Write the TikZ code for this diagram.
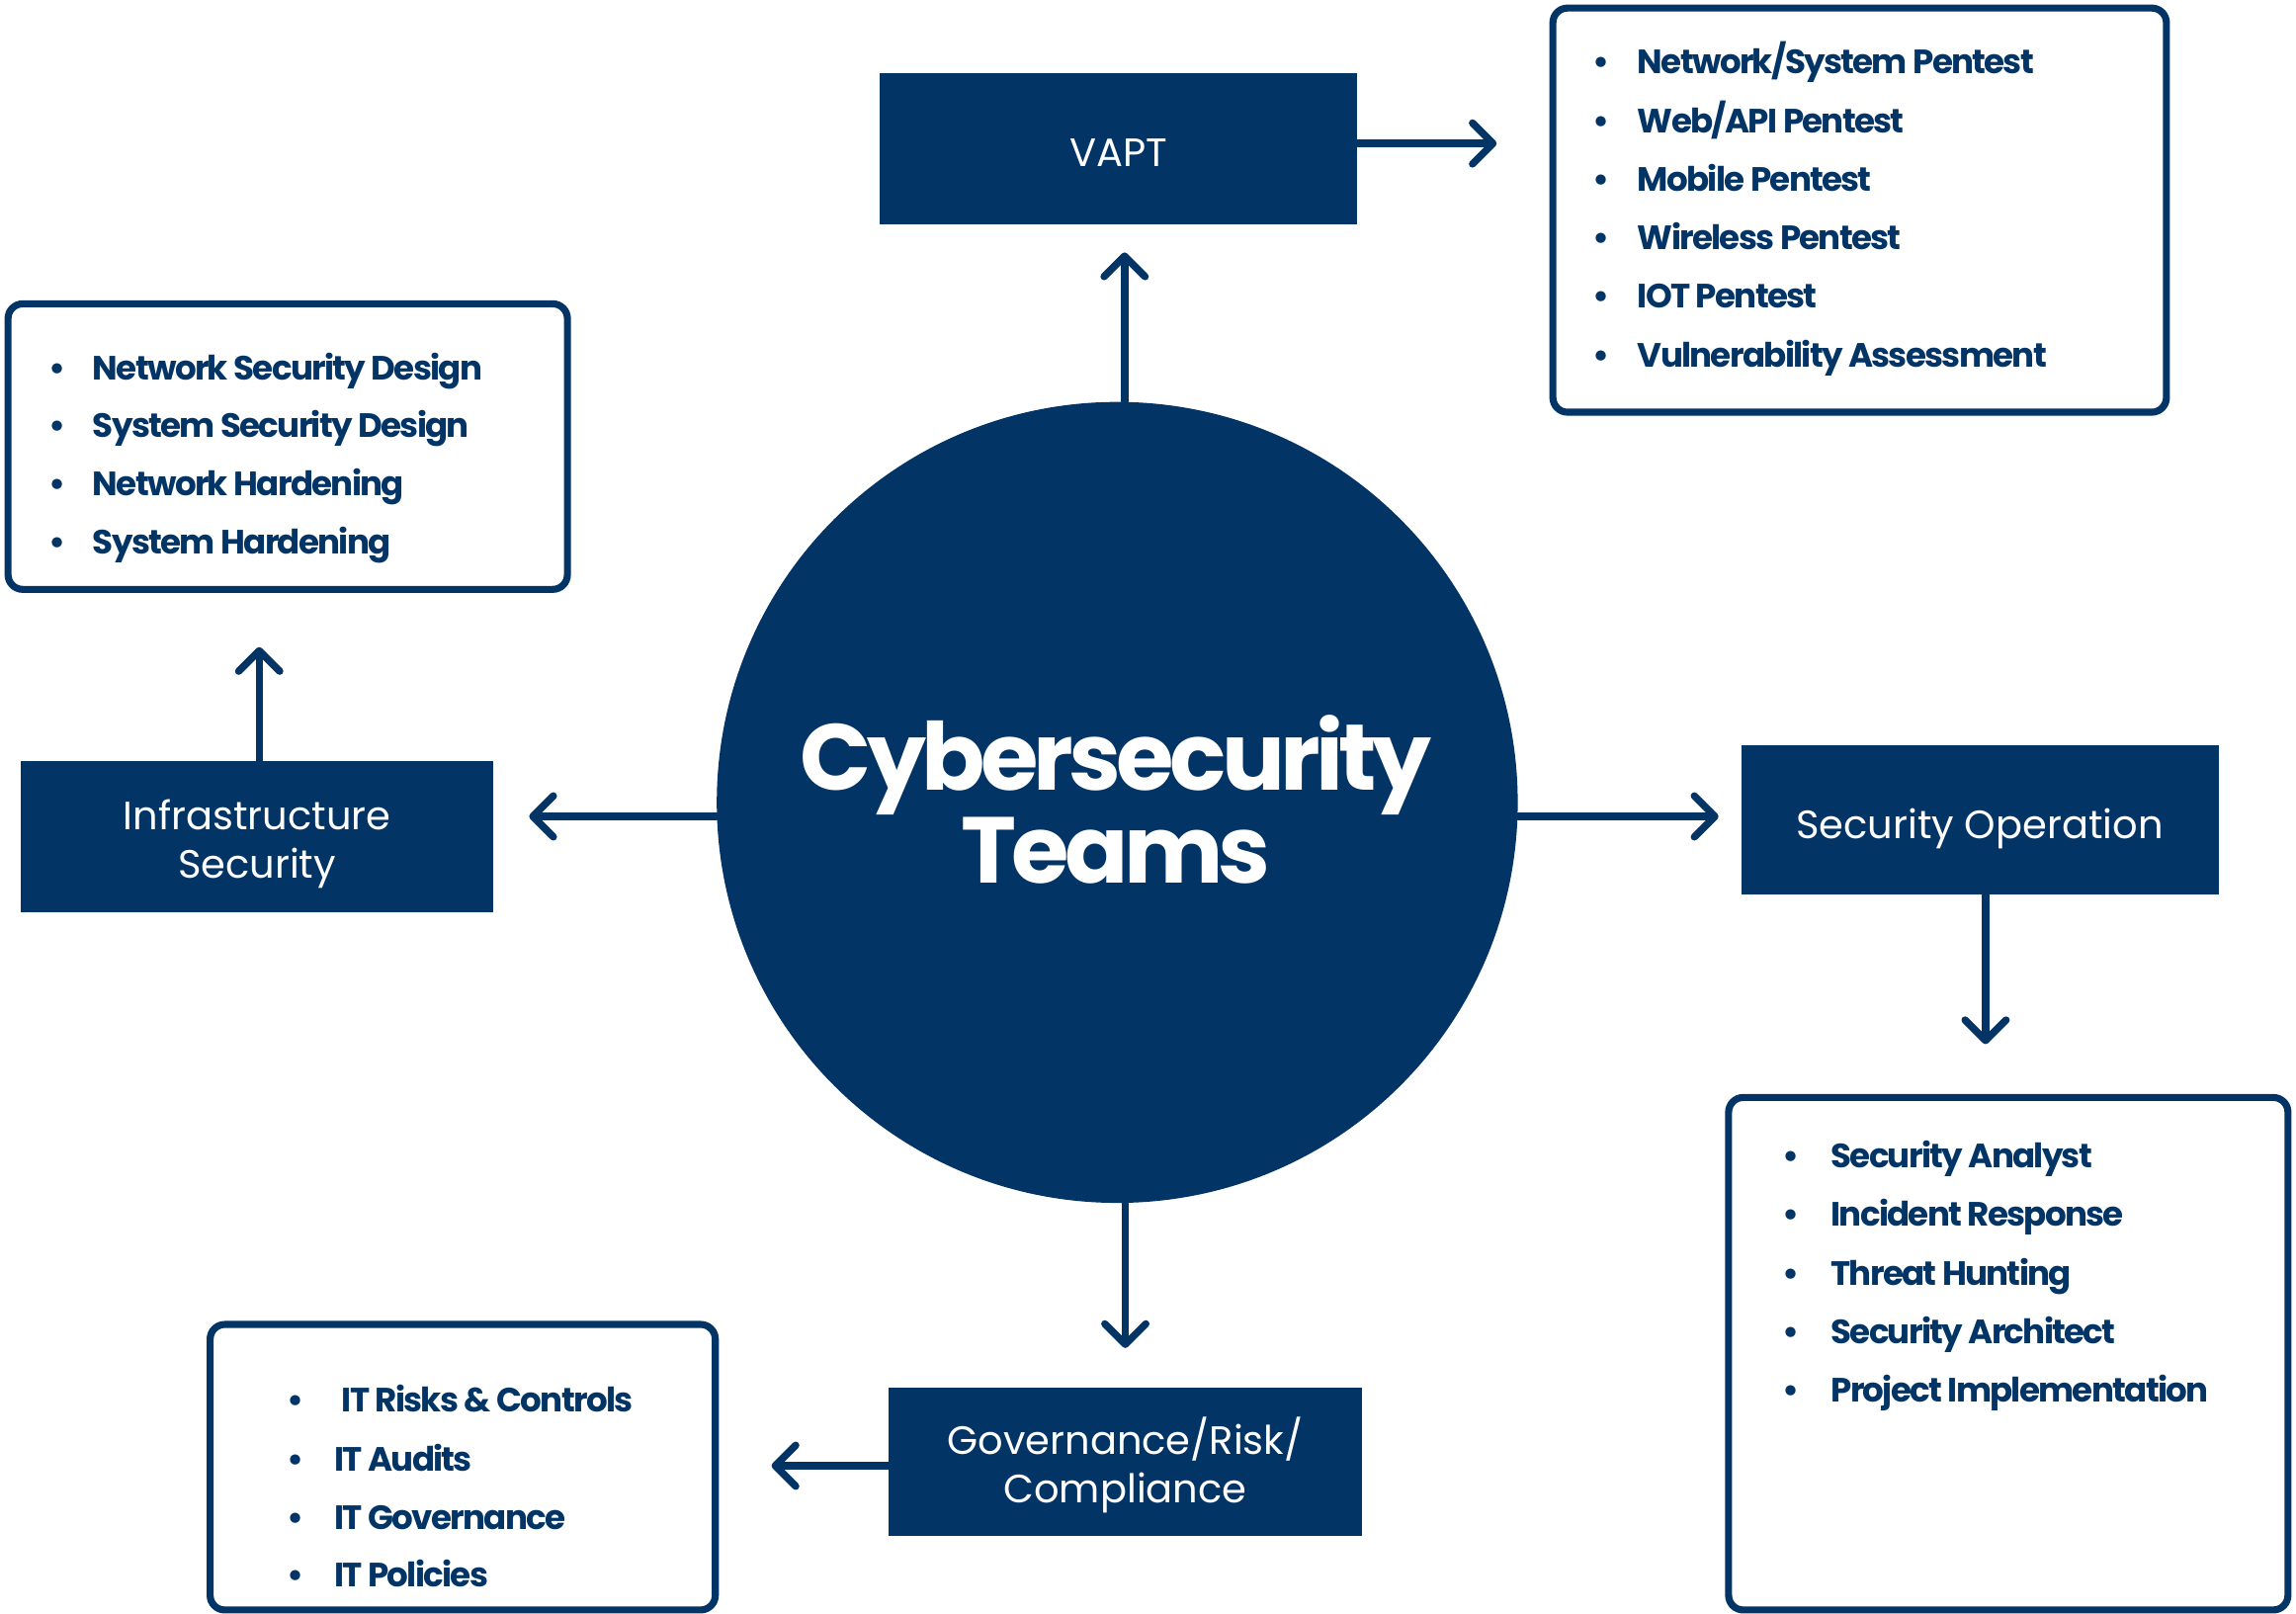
\documentclass[tikz,border=0pt]{standalone}
\usepackage{fontspec}
\setmainfont{Poppins}
\newfontfamily\listfont{Poppins}[LetterSpace=-5]
\newfontfamily\titlefont{Poppins}[LetterSpace=-5]
\usetikzlibrary{arrows.meta}
\definecolor{navy}{HTML}{033466}
\begin{document}
\begin{tikzpicture}[x=0.5pt,y=-0.5pt,
  box/.style={fill=navy, draw=none, inner sep=0pt},
  boxtext/.style={text=white, font=\fontsize{13.5}{16.5}\selectfont, align=center, inner sep=0pt},
  listbox/.style={draw=navy, line width=2.4pt, rounded corners=5pt, fill=white, inner sep=0pt},
  item/.style={anchor=mid west, inner sep=0pt, text=navy, font=\listfont\bfseries\fontsize{11.5}{14}\selectfont},
  conn/.style={draw=navy, line width=2.5pt, line cap=round, -{Straight Barb[length=7pt,width=14pt,round]}},
]
\fill[white] (0,0) rectangle (1568,1102);
\useasboundingbox (0,0) rectangle (1568,1102);

% central circle
\node[circle, fill=navy, minimum size=273.5pt, inner sep=0pt] (circ) at (763,548) {};
\node[text=white, font=\titlefont\bfseries\fontsize{32}{31.5}\selectfont, align=center, inner sep=0pt] (title) at (762,546) {Cybersecurity\\Teams};

% team boxes
\node[box, minimum width=163pt, minimum height=51.5pt] (vapt) at (764,101.5) {};
\node[boxtext] (vaptlbl) at ([yshift=-1.5pt]vapt.center) {VAPT};
\node[box, minimum width=161.5pt, minimum height=51.5pt] (infra) at (175.5,571.5) {};
\node[boxtext] (infralbl) at ([yshift=-2.5pt]infra.center) {Infrastructure\\Security};
\node[box, minimum width=163pt, minimum height=51pt] (secop) at (1352,560) {};
\node[boxtext] (secoplbl) at ([yshift=-3pt]secop.center) {Security Operation};
\node[box, minimum width=161.5pt, minimum height=50.5pt] (grc) at (768.5,998.5) {};
\node[boxtext] (grclbl) at ([yshift=-1pt]grc.center) {Governance/Risk/\\Compliance};

% list boxes
\node[listbox, minimum width=209.5pt, minimum height=138pt] (vlist) at (1270,143.5) {};
\node[listbox, minimum width=191pt, minimum height=97.5pt] (ilist) at (196.5,305) {};
\node[listbox, minimum width=191pt, minimum height=175pt] (slist) at (1371.5,924.5) {};
\node[listbox, minimum width=172.5pt, minimum height=97.5pt] (glist) at (316,1002) {};

% list items
\foreach \t [count=\i] in {Network/System Pentest, Web/API Pentest, Mobile Pentest, Wireless Pentest, IOT Pentest, Vulnerability Assessment}
  \node[item] (v\i) at (1087,{5+40*\i}) {\makebox[15.5pt][l]{•}\t};
\foreach \t/\y [count=\i] in {Network Security Design/254, System Security Design/293, Network Hardening/333, System Hardening/373}
  \node[item] (in\i) at (33,\y) {\makebox[15pt][l]{•}\t};
\foreach \t [count=\i] in {Security Analyst, Incident Response, Threat Hunting, Security Architect, Project Implementation}
  \node[item] (s\i) at (1217,{752+40*\i}) {\makebox[16.5pt][l]{•}\t};
\node[item] (g1) at (196,959) {\makebox[18.5pt][l]{•}IT Risks \& Controls};
\foreach \t/\y [count=\i from 2] in {IT Audits/999, IT Governance/1039, IT Policies/1078}
  \node[item] (g\i) at (196,\y) {\makebox[16pt][l]{•}\t};

% connectors
\draw[conn, shorten >=9.5pt] ([xshift=2pt]vapt.south |- circ.north) -- ([xshift=2pt]vapt.south);
\draw[conn, shorten >=18pt] ([yshift=1.75pt]vapt.east) -- ([yshift=1.75pt]vapt.east -| vlist.west);
\draw[conn, shorten >=12pt] (circ.182) -- (circ.182 -| infra.east);
\draw[conn, shorten >=18.5pt] ([xshift=0.75pt]infra.north) -- ([xshift=0.75pt]infra.north |- ilist.south);
\draw[conn, shorten >=7.5pt] (circ.358) -- (circ.358 -| secop.west);
\draw[conn, shorten >=17pt] ([xshift=2pt]secop.south) -- ([xshift=2pt]secop.south |- slist.north);
\draw[conn, shorten >=13.5pt] (circ.south -| grc.north) -- (grc.north);
\draw[conn, shorten >=18pt] ([yshift=-1.25pt]grc.west) -- ([yshift=-1.25pt]grc.west -| glist.east);
\end{tikzpicture}
\end{document}
